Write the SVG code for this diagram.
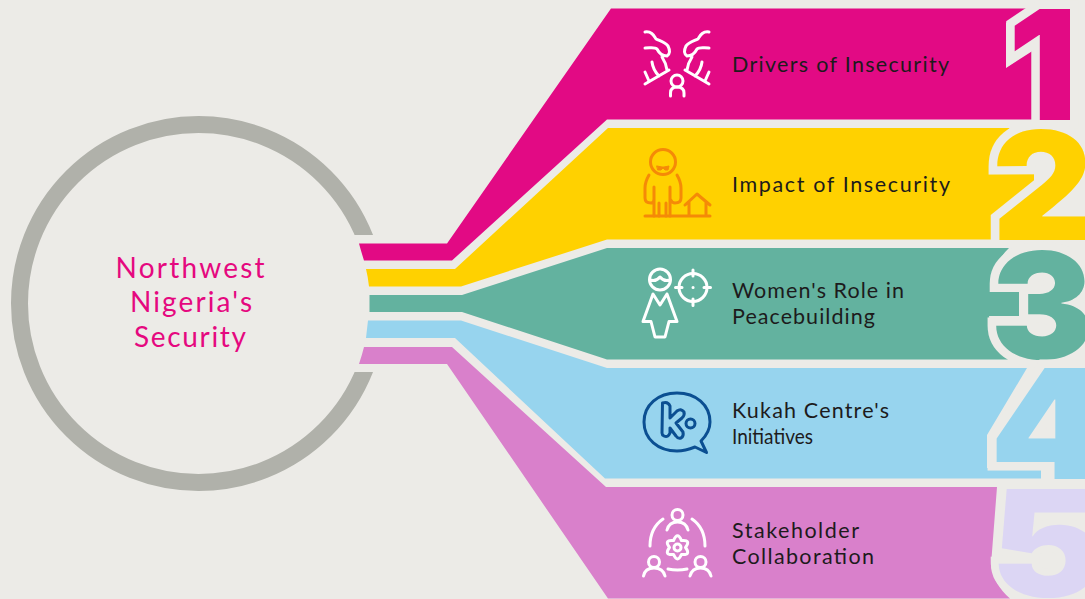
<svg xmlns="http://www.w3.org/2000/svg" width="1085" height="599" viewBox="0 0 1085 599">
<style>
.lbl{font-family:"Lato","Noto Sans",sans-serif;font-size:21.5px;fill:#1d1b1c}
.ctr{font-family:"Lato","Noto Sans",sans-serif;font-size:28px;fill:#e5087f;text-anchor:middle}
.num{font-family:"Inter","Roboto",sans-serif;font-weight:900;font-size:153px;stroke:#ecebe7;stroke-width:17px;paint-order:stroke;stroke-linejoin:miter}
.ic{fill:none;stroke-width:3;stroke-linecap:round;stroke-linejoin:round}
.w{stroke:#fff}
</style>
<rect width="1085" height="599" fill="#ecebe7"/>
<g id="hub">
<circle cx="198.500" cy="303.500" r="179" fill="none" stroke="#b0b1aa" stroke-width="17"/>
<rect x="340" y="235" width="60" height="137" fill="#ecebe7"/>
<text class="ctr" x="190" y="278" textLength="149">Northwest</text>
<text class="ctr" x="191" y="312" textLength="122">Nigeria's</text>
<text class="ctr" x="190" y="347" textLength="112">Security</text>
</g>
<g id="step-1">
<path fill="#e20a84" d="M359 243.500H447L611 8.500H1027L1006 23V68L1034 50V119.500H607L452 260.500H364Q361 251 359 243.500Z"/>
<text class="num" fill="#e20a84" transform="translate(1008 119.500)">1</text>
<g class="ic w">
<path d="M645 84L669 70M645 72L649 81M652 62Q653 70 659 76M662 57Q666 63 667 70M645 32C652 31 654 36 656 39C660 41 665 42 668 46C670 50 670 54 667 56C662 56 659 53 657 49C655 47 651 48 645 48"/>
<path d="M709 84L685 70M709 72L705 81M702 62Q701 70 695 76M692 57Q688 63 687 70M709 32C702 31 700 36 698 39C694 41 689 42 686 46C684 50 684 54 687 56C692 56 695 53 697 49C699 47 703 48 709 48"/>
<circle cx="677" cy="81" r="6"/><path d="M670.500 96V93Q670.500 87 677 87Q684 87 684 93V96"/>
</g>
<text class="lbl" x="732" y="72" textLength="217">Drivers of Insecurity</text>
</g>
<g id="step-2">
<path fill="#ffd100" d="M366 269H455L608 128H1010Q994 142 991 160V173H1034V181L992 216V239.500H607L461 286.500H369Q368 277 366 269Z"/>
<text class="num" fill="#ffd100" transform="translate(992 239.500) scale(1.02 .98)">2</text>
<g class="ic" stroke="#f58a07">
<circle cx="663" cy="162" r="12.500"/>
<path d="M649 175Q645 182 645 188V198Q645 203 651 203Q654 203 654 199V187M654 199V216M677 175Q681 182 681 188V198Q681 203 675 203Q672 203 670 199V187M670 199V216M659 203V216M666 203V216"/>
<path d="M657 166L662 167H664L669 166L668 170H665L663 168L661 170H658Z" fill="#f58a07" stroke-width="1"/>
<path d="M645 216H710M685 205L697 194L710 205M689 202V216M706 202V216"/>
</g>
<text class="lbl" x="732" y="192" textLength="218">Impact of Insecurity</text>
</g>
<g id="step-3">
<path fill="#63b29f" d="M369.500 295H462L607 248H1009Q994 262 991 288H1019V316H989Q992 342 1008 359.500H607L462 312H369.500Z"/>
<text class="num" fill="#63b29f" transform="translate(990.500 358.500) scale(1.01 .97)">3</text>
<g class="ic w">
<circle cx="660" cy="279.500" r="10.500"/>
<path d="M650 280Q656 282 660 277Q664 282 670 280M653 294L643 321.500H651L655 337H665L669 321.500H677L667 294L660 305Z"/>
<circle cx="693" cy="287.500" r="14"/><path d="M675.500 287.500H682M704 287.500H710.500M693 270V276M693 299V305.500M693 287.500H693.100"/>
</g>
<text class="lbl" x="732" y="298" textLength="172">Women's Role in</text>
<text class="lbl" x="732" y="324" textLength="143">Peacebuilding</text>
</g>
<g id="step-4">
<path fill="#97d4ee" d="M368 320.500H461L607 368H1027L987 435V468H1041V478.500H605L455 338H366Q367 329 368 320.500Z"/>
<text class="num" fill="#97d4ee" transform="translate(990 478.500) scale(1.07 1)">4</text>
<g class="ic" stroke="#0b4f92">
<path d="M695 447L706.500 452.500L701 441C707 435 710 429 710 422C710 405 696 393 677 393C658 393 644 405 644 422C644 439 658 451 677 451C684 451 690 449 695 447Z"/>
<path d="M662.500 403Q668 401 670 406V418L677 411Q681 408 684 412Q685 415 682 418L676 423L683 432Q684 436 681 438Q678 439 676 436L670 428V433Q668 438 664 436Q662 435 662 433Z"/>
<circle cx="690.500" cy="423.500" r="4.500"/>
</g>
<text class="lbl" x="732" y="418" textLength="157">Kukah Centre's</text>
<text class="lbl" x="732" y="444" textLength="81" lengthAdjust="spacingAndGlyphs">Initiatives</text>
</g>
<g id="step-5">
<path fill="#d980cb" d="M364 347H452L606 487H997L991 565Q994 585 1010 598.500H608L447 364H359Q362 355 364 347Z"/>
<text class="num" fill="#dcd6f4" style="stroke-width:14px" transform="translate(990 597) scale(1.12 .97)">5</text>
<g class="ic w">
<circle cx="677.500" cy="515" r="5.500"/><path d="M667 530Q669 522 677.500 522Q686 522 688 530"/>
<circle cx="654" cy="562" r="5.500"/><path d="M643.500 576Q645 568 654 568Q663 568 665 576"/>
<circle cx="700.500" cy="562" r="5.500"/><path d="M690 576Q692 568 700.500 568Q709 568 711 576"/>
<path d="M650 546Q650 528 663 519M705 546Q705 528 692 519M668 569Q677.500 571 687 569"/>
<path d="M673.500 540.600Q677.500 531 681.500 540.600Q691.400 539.500 685.500 547.500Q691.400 555.500 681.500 554.400Q677.500 563.500 673.500 554.400Q663.600 555.500 669.500 547.500Q663.600 539.500 673.500 540.600Z"/>
<circle cx="677.500" cy="547.500" r="3.500"/>
</g>
<text class="lbl" x="732" y="538" textLength="127">Stakeholder</text>
<text class="lbl" x="732" y="564" textLength="142">Collaboration</text>
</g>
</svg>
